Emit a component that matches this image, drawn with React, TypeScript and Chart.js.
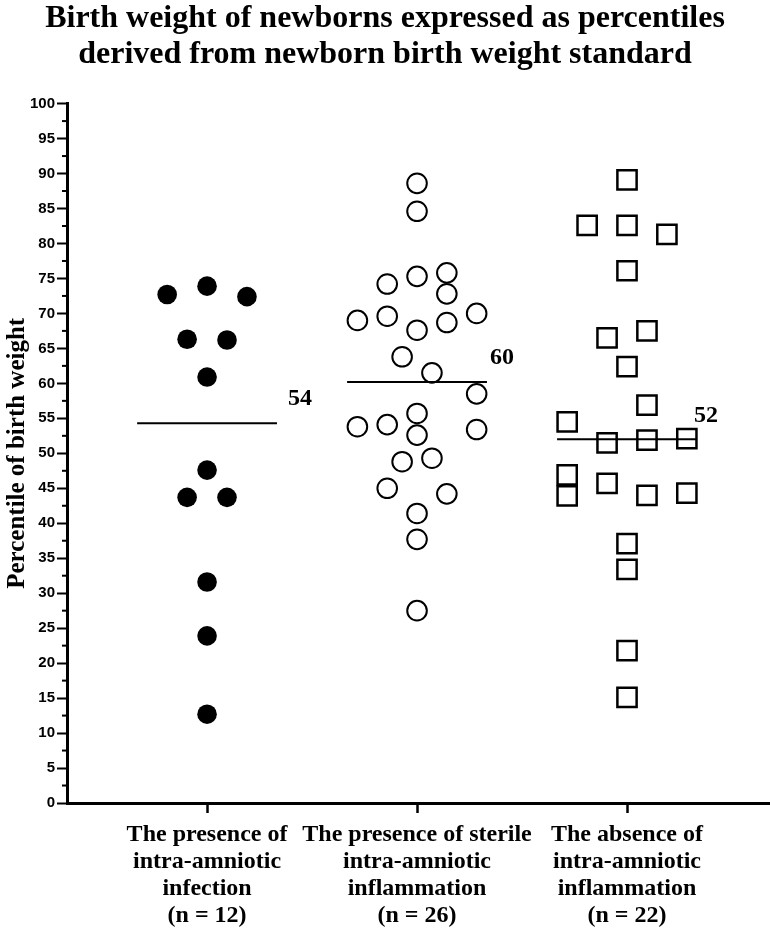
import { useEffect, useRef } from "react"
import { Chart, registerables } from "chart.js"

Chart.register(...registerables)

const titleLines = [
  "Birth weight of newborns expressed as percentiles",
  "derived from newborn birth weight standard",
]
const yAxisTitle = "Percentile of birth weight"

const groupLabels = [
  ["The presence of", "intra-amniotic", "infection", "(n = 12)"],
  ["The presence of sterile", "intra-amniotic", "inflammation", "(n = 26)"],
  ["The absence of", "intra-amniotic", "inflammation", "(n = 22)"],
]

// percentile values per group, with the column (lane) each dot sits in
const infectionValues = [72.7, 73.9, 72.4, 66.3, 66.2, 60.9, 47.6, 43.7, 43.7, 31.6, 23.9, 12.7]
const infectionLanes = [-2, 0, 2, -1, 1, 0, 0, -1, 1, 0, 0, 0]

const sterileValues = [
  88.6, 84.6, 74.2, 75.3, 75.8, 72.8, 69.0, 69.6, 67.6, 68.7, 70.0, 63.8, 61.5,
  58.5, 55.7, 53.8, 54.1, 52.6, 53.4, 48.8, 49.3, 45.0, 44.2, 41.4, 37.7, 27.5,
]
const sterileLanes = [0, 0, -2, 0, 2, 2, -4, -2, 0, 2, 4, -1, 1, 4, 0, -4, -2, 0, 4, -1, 1, -2, 2, 0, 0, 0]

const absenceValues = [
  89.1, 82.6, 82.6, 81.3, 76.1, 66.5, 67.5, 62.4, 56.9, 54.5, 51.5, 51.9, 52.1,
  46.9, 43.9, 45.7, 44.0, 44.3, 37.1, 33.4, 21.8, 15.1,
]
const absenceLanes = [0, -2, 0, 2, 0, -1, 1, 0, 1, -3, -1, 1, 3, -3, -3, -1, 1, 3, 0, 0, 0, 0]

const medians = [54.3, 60.2, 52.0]
const medianLabels = ["54", "60", "52"]

const yTickValues = [0, 5, 10, 15, 20, 25, 30, 35, 40, 45, 50, 55, 60, 65, 70, 75, 80, 85, 90, 95, 100]

const laneStep = [0.095, 0.071, 0.095]
const medianHalfWidth = 0.333
const labelNudge = [11, 3, -3]

function toPoints(group: number, values: number[], lanes: number[]) {
  return values.map((v, i) => ({ x: group + lanes[i] * laneStep[group - 1], y: v }))
}

const extrasPlugin = {
  id: "extras",
  afterDatasetsDraw(chart: any) {
    const { ctx, chartArea, scales } = chart
    const x = scales.x
    const y = scales.y

    // minor ticks on the y axis
    ctx.save()
    ctx.strokeStyle = "#000"
    ctx.lineWidth = 2
    for (let i = 0; i < yTickValues.length - 1; i++) {
      const py = y.getPixelForValue((yTickValues[i] + yTickValues[i + 1]) / 2)
      ctx.beginPath()
      ctx.moveTo(chartArea.left, py)
      ctx.lineTo(chartArea.left - 5, py)
      ctx.stroke()
    }

    // median labels
    ctx.fillStyle = "#000"
    ctx.font = "bold 24px 'Liberation Serif'"
    ctx.textAlign = "left"
    ctx.textBaseline = "middle"
    medians.forEach((m, i) => {
      const px = x.getPixelForValue(i + 1 + medianHalfWidth) + labelNudge[i]
      const py = y.getPixelForValue(m) - 24
      ctx.fillText(medianLabels[i], px, py)
    })
    ctx.restore()
  },
}

export default function App() {
  const chartRef = useRef<HTMLCanvasElement>(null)
  const chartInstance = useRef<Chart | null>(null)

  useEffect(() => {
    if (!chartRef.current) return
    if (chartInstance.current) {
      chartInstance.current.destroy()
    }
    const ctx = chartRef.current.getContext("2d")
    if (!ctx) return

    const medianSets = medians.map((m, i) => ({
      label: "median " + (i + 1),
      data: [
        { x: i + 1 - medianHalfWidth, y: m },
        { x: i + 1 + medianHalfWidth, y: m },
      ],
      showLine: true,
      pointRadius: 0,
      borderColor: "#000",
      borderWidth: 2,
    }))

    chartInstance.current = new Chart(ctx, {
      type: "scatter",
      data: {
        datasets: [
          {
            label: "infection",
            data: toPoints(1, infectionValues, infectionLanes),
            pointStyle: "circle",
            pointRadius: 9.8,
            backgroundColor: "#000",
            borderColor: "#000",
            borderWidth: 0,
          },
          {
            label: "sterile",
            data: toPoints(2, sterileValues, sterileLanes),
            pointStyle: "circle",
            pointRadius: 9.8,
            backgroundColor: "rgba(0,0,0,0)",
            borderColor: "#000",
            borderWidth: 2,
          },
          {
            label: "absence",
            data: toPoints(3, absenceValues, absenceLanes),
            pointStyle: "rect",
            pointRadius: 13.6,
            backgroundColor: "rgba(0,0,0,0)",
            borderColor: "#000",
            borderWidth: 2.5,
          },
          ...medianSets,
        ],
      },
      options: {
        animation: false,
        responsive: true,
        maintainAspectRatio: false,
        events: [],
        layout: { padding: 0, autoPadding: false },
        plugins: {
          legend: { display: false },
          tooltip: { enabled: false },
          title: {
            display: true,
            text: titleLines,
            color: "#000",
            font: { family: "'Liberation Serif'", size: 32, weight: "bold", lineHeight: 1.15 },
            padding: { top: 0, bottom: 30 },
          },
        },
        scales: {
          x: {
            type: "linear",
            min: 0.333,
            max: 3.681,
            afterFit: (s: any) => {
              s.height = 147
              s.paddingLeft = 0
              s.paddingRight = 0
            },
            afterBuildTicks: (s: any) => {
              s.ticks = groupLabels.map((_, i) => ({ value: i + 1 }))
            },
            ticks: {
              callback: (v: any) => groupLabels[Number(v) - 1] || "",
              color: "#000",
              font: { family: "'Liberation Serif'", size: 24, weight: "bold", lineHeight: 1.13 },
              padding: 8,
              maxRotation: 0,
              autoSkip: false,
            },
            grid: {
              drawOnChartArea: false,
              tickLength: 10,
              tickWidth: 2.5,
              tickColor: "#000",
            },
            border: { display: true, color: "#000", width: 3 },
          },
          y: {
            min: 0,
            max: 100,
            afterFit: (s: any) => {
              s.width = 67
            },
            afterBuildTicks: (s: any) => {
              s.ticks = yTickValues.map((v) => ({ value: v }))
            },
            ticks: {
              color: "#000",
              font: { family: "'Liberation Sans'", size: 15, weight: "bold" },
              padding: 2,
            },
            grid: {
              drawOnChartArea: false,
              tickLength: 10,
              tickWidth: 2,
              tickColor: "#000",
            },
            border: { display: true, color: "#000", width: 3 },
            title: {
              display: true,
              text: yAxisTitle,
              color: "#000",
              font: { family: "'Liberation Serif'", size: 25, weight: "bold" },
              padding: { top: 3, bottom: 0 },
            },
          },
        },
      },
      plugins: [extrasPlugin],
    })

    return () => {
      if (chartInstance.current) {
        chartInstance.current.destroy()
        chartInstance.current = null
      }
    }
  }, [])

  return (
    <div style={{ position: "fixed", left: 0, top: 0, width: 770, height: 950, background: "#fff" }}>
      <canvas ref={chartRef} />
    </div>
  )
}
